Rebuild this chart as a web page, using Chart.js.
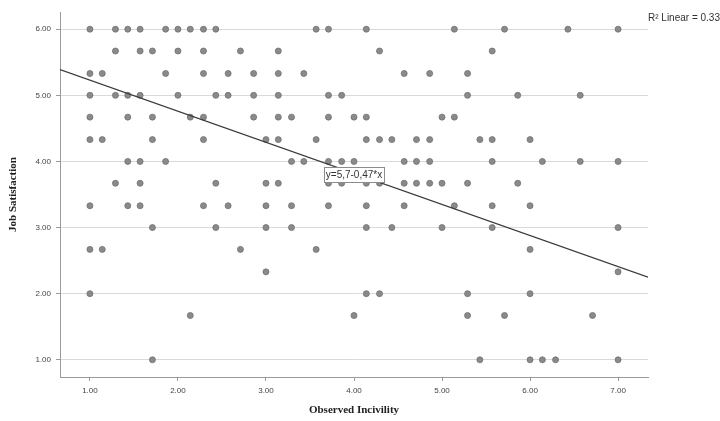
<!DOCTYPE html>
<html>
<head>
<meta charset="utf-8">
<script src="https://cdn.jsdelivr.net/npm/chart.js@4.4.1/dist/chart.umd.min.js"></script>
<style>
  html, body { margin: 0; padding: 0; background: #ffffff; }
  #wrap { width: 720px; height: 421px; }
</style>
</head>
<body>
<div id="wrap"><canvas id="c" width="720" height="421"></canvas></div>
<script>
// tick labels
const xTicks = [1, 2, 3, 4, 5, 6, 7];
const yTicks = [1, 2, 3, 4, 5, 6];

// job satisfaction levels, and the observed incivility scores found on each level
const rowY = [6.00, 5.67, 5.33, 5.00, 4.67, 4.33, 4.00, 3.67, 3.33, 3.00, 2.67, 2.33, 2.00, 1.67, 1.00];
const rowX = [
    [1.00, 1.29, 1.43, 1.57, 1.86, 2.00, 2.14, 2.29, 2.43, 3.57, 3.71, 4.14, 5.14, 5.71, 6.43, 7.00],
    [1.29, 1.57, 1.71, 2.00, 2.29, 2.71, 3.14, 4.29, 5.57],
    [1.00, 1.14, 1.86, 2.29, 2.57, 2.86, 3.14, 3.43, 4.57, 4.86, 5.29],
    [1.00, 1.29, 1.43, 1.57, 2.00, 2.43, 2.57, 2.86, 3.14, 3.71, 3.86, 5.29, 5.86, 6.57],
    [1.00, 1.43, 1.71, 2.14, 2.29, 2.86, 3.14, 3.29, 3.71, 4.00, 4.14, 5.00, 5.14],
    [1.00, 1.14, 1.71, 2.29, 3.00, 3.14, 3.57, 4.14, 4.29, 4.43, 4.71, 4.86, 5.43, 5.57, 6.00],
    [1.43, 1.57, 1.86, 3.29, 3.43, 3.71, 3.86, 4.00, 4.57, 4.71, 4.86, 5.57, 6.14, 6.57, 7.00],
    [1.29, 1.57, 2.43, 3.00, 3.14, 3.71, 3.86, 4.14, 4.29, 4.57, 4.71, 4.86, 5.00, 5.29, 5.86],
    [1.00, 1.43, 1.57, 2.29, 2.57, 3.00, 3.29, 3.71, 4.14, 4.57, 5.14, 5.57, 6.00],
    [1.71, 2.43, 3.00, 3.29, 4.14, 4.43, 5.00, 5.57, 7.00],
    [1.00, 1.14, 2.71, 3.57, 6.00],
    [3.00, 7.00],
    [1.00, 4.14, 4.29, 5.29, 6.00],
    [2.14, 4.00, 5.29, 5.71, 6.71],
    [1.71, 5.43, 6.00, 6.14, 6.29, 7.00]
];

// fit line  y = 5,7 - 0,47*x  across the axis range
const fitX = [0.66, 7.34];
const fitY = [5.39, 2.25];
const fitLabel = 'y=5,7-0,47*x';
const fitLabelAt = { x: 4.0, y: 3.80 };
const r2Label = 'R\u00B2 Linear = 0.336';

const points = [];
rowY.forEach(function (y, i) {
    rowX[i].forEach(function (x) { points.push({ x: x, y: y }); });
});
const fitPoints = fitX.map(function (x, i) { return { x: x, y: fitY[i] }; });

const labelsPlugin = {
    id: 'labels',
    afterDatasetsDraw: function (chart) {
        const ctx = chart.ctx;
        const xs = chart.scales.x, ys = chart.scales.y;
        ctx.save();
        // equation box on the line
        ctx.font = '10px "Liberation Sans", Arial, sans-serif';
        const w = ctx.measureText(fitLabel).width;
        const cx = xs.getPixelForValue(fitLabelAt.x);
        const cy = ys.getPixelForValue(fitLabelAt.y);
        const bw = w + 4, bh = 15;
        ctx.fillStyle = '#ffffff';
        ctx.fillRect(cx - bw / 2, cy - bh / 2, bw, bh);
        ctx.strokeStyle = '#8c8c8c';
        ctx.lineWidth = 1;
        ctx.strokeRect(Math.round(cx - bw / 2) + 0.5, Math.round(cy - bh / 2) + 0.5, Math.round(bw), bh);
        ctx.fillStyle = '#333333';
        ctx.textAlign = 'center';
        ctx.textBaseline = 'middle';
        ctx.fillText(fitLabel, cx, cy + 0.5);
        // R squared note, top right
        ctx.textAlign = 'left';
        ctx.fillText(r2Label, 648, 18);
        ctx.restore();
    }
};

new Chart(document.getElementById('c'), {
    type: 'scatter',
    data: {
        datasets: [{
            label: 'Fit',
            type: 'line',
            data: fitPoints,
            borderColor: '#3a3a3a',
            borderWidth: 1.2,
            pointRadius: 0,
            fill: false,
            order: 0
        }, {
            label: 'Job Satisfaction',
            data: points,
            backgroundColor: '#8a8a8a',
            borderColor: '#707070',
            borderWidth: 0.8,
            pointRadius: 3,
            order: 1
        }]
    },
    options: {
        responsive: false,
        animation: false,
        layout: { padding: { top: 12, right: 72, left: 0, bottom: 0 } },
        plugins: {
            legend: { display: false },
            tooltip: { enabled: false }
        },
        scales: {
            x: {
                type: 'linear',
                min: 0.66,
                max: 7.34,
                afterFit: function (scale) { scale.height = 44; },
                afterBuildTicks: function (scale) {
                    scale.ticks = xTicks.map(function (v) { return { value: v }; });
                },
                ticks: {
                    padding: 5,
                    color: '#444444',
                    font: { family: '"Liberation Sans", Arial, sans-serif', size: 8 },
                    callback: function (v) { return Number(v).toFixed(2); }
                },
                grid: { drawOnChartArea: false, drawTicks: true, tickLength: 4, tickColor: '#9a9a9a' },
                border: { color: '#9a9a9a', width: 1 },
                title: {
                    display: true,
                    text: 'Observed Incivility',
                    color: '#222222',
                    font: { family: '"Liberation Serif", "Times New Roman", serif', size: 11, weight: 'bold' },
                    padding: { top: 4, bottom: 4 }
                }
            },
            y: {
                type: 'linear',
                min: 0.74,
                max: 6.26,
                afterFit: function (scale) { scale.width = 60; },
                afterBuildTicks: function (scale) {
                    scale.ticks = yTicks.map(function (v) { return { value: v }; });
                },
                ticks: {
                    padding: 5,
                    color: '#444444',
                    font: { family: '"Liberation Sans", Arial, sans-serif', size: 8 },
                    callback: function (v) { return Number(v).toFixed(2); }
                },
                grid: { color: '#dadada', lineWidth: 1, drawTicks: true, tickLength: 4, tickColor: '#9a9a9a' },
                border: { color: '#9a9a9a', width: 1 },
                title: {
                    display: true,
                    text: 'Job Satisfaction',
                    color: '#222222',
                    font: { family: '"Liberation Serif", "Times New Roman", serif', size: 11, weight: 'bold' },
                    padding: { top: 7, bottom: 4 }
                }
            }
        }
    },
    plugins: [labelsPlugin]
});
</script>
</body>
</html>
